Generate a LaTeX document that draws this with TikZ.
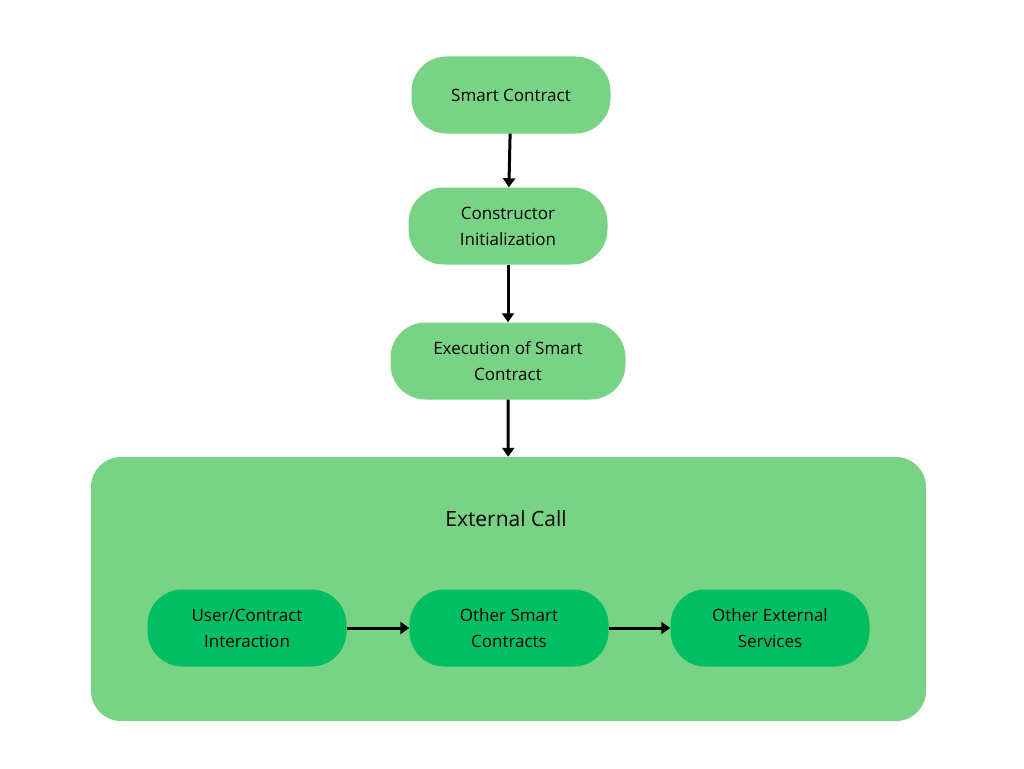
\documentclass[tikz,border=0pt]{standalone}
\usepackage{fontspec}
\setmainfont{Open Sans}
\usetikzlibrary{positioning, arrows.meta}
\definecolor{scLight}{RGB}{120,212,132}
\definecolor{scDark}{RGB}{0,191,99}

\begin{document}
\begin{tikzpicture}[x=1pt, y=-1pt,
  stage/.style={fill=scLight, rounded corners=35pt, minimum width=199pt, minimum height=77pt, align=center, font=\fontsize{17}{26}\selectfont, inner sep=0pt},
  sub/.style={stage, fill=scDark},
  arrow/.style={-{Triangle[length=9pt, width=12pt]}, line width=3pt, black}
]
  \useasboundingbox (0,0) rectangle (1024,768);
  \node[fill=scLight, rounded corners=30pt, minimum width=835pt, minimum height=264pt, inner sep=0pt] (ext) at (508.5,589) {};
  \node[font=\fontsize{21}{26}\selectfont] (extlabel) at (506,519) {External Call};

  \node[stage] (contract) at (511,95) {Smart Contract};
  \node[stage] (ctor) at (508,226) {Constructor\\Initialization};
  \node[stage, minimum width=235pt] (exec) at (508,361) {Execution of Smart\\Contract};

  \node[sub] (user) at (247,628) {User/Contract\\Interaction};
  \node[sub] (others) at (509,628) {Other Smart\\Contracts};
  \node[sub] (services) at (770,628) {Other External\\Services};

  \draw[arrow] (contract) -- (ctor);
  \draw[arrow] (ctor) -- (exec);
  \draw[arrow] (exec) -- (ext);
  \draw[arrow] (user) -- (others);
  \draw[arrow] (others) -- (services);
\end{tikzpicture}
\end{document}
